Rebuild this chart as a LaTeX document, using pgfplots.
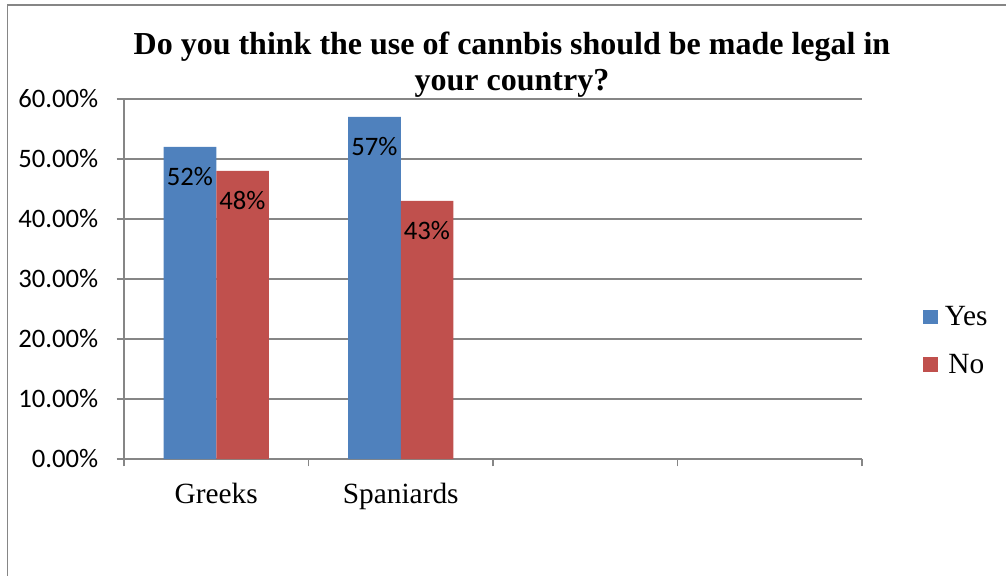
\documentclass[border=0pt]{standalone}
\usepackage{fontspec}
\setmainfont{Liberation Serif}
\newfontfamily\calibri{Carlito}
\usepackage{pgfplots}
\pgfplotsset{compat=1.18}
\definecolor{xlblue}{HTML}{4F81BD}
\definecolor{xlred}{HTML}{C0504D}
\definecolor{xlgrid}{HTML}{868686}
\begin{document}
\begin{tikzpicture}
\useasboundingbox (0,0) rectangle (754.5pt,431.25pt);
\draw[xlgrid, line width=1.4pt] (5.6pt,-5pt) -- (5.6pt,427.5pt) -- (760pt,427.5pt);
\node[font=\bfseries\fontsize{24}{24}\selectfont, anchor=base, inner sep=0pt] at (384pt,390pt) {Do you think the use of cannbis should be made legal in};
\node[font=\bfseries\fontsize{24}{24}\selectfont, anchor=base, inner sep=0pt] at (384pt,363pt) {your country?};
\begin{axis}[
  at={(93pt,87pt)}, anchor=south west,
  scale only axis, width=553.5pt, height=270pt,
  ybar, bar width=0.2846,
  xmin=-0.5, xmax=3.5, ymin=0, ymax=60,
  xtick={-0.5,0.5,1.5,2.5,3.5}, xticklabels={,,,,},
  extra x ticks={0,1}, extra x tick labels={Greeks,Spaniards},
  extra x tick style={major tick length=0pt, xticklabel style={font=\fontsize{22}{22}\selectfont, anchor=base, inner sep=0pt, yshift=-33pt}},
  ytick={0,10,...,60},
  /pgf/number format/assume math mode=true,
  yticklabel={\pgfmathprintnumber[fixed,fixed zerofill,precision=2]{\tick}\%},
  yticklabel style={font=\calibri\fontsize{20}{20}\selectfont, anchor=east, inner sep=0pt, xshift=-13.5pt},
  axis x line*=bottom, axis y line*=left,
  ymajorgrids, major grid style={xlgrid, line width=1.3pt},
  axis line style={xlgrid, line width=1.3pt},
  every tick/.style={xlgrid, line width=1.3pt},
  tick align=outside, major tick length=5.6pt,
  nodes near coords={\pgfmathprintnumber[fixed,precision=0]{\pgfplotspointmeta}\%},
  nodes near coords align=center,
  every node near coord/.append style={font=\calibri\fontsize{20}{20}\selectfont, anchor=north, inner sep=0pt, yshift=-15pt, text=black},
  legend style={draw=none, fill=none, at={(1.0827,0.432)}, anchor=north west, font=\fontsize{22}{22}\selectfont, row sep=16pt, inner sep=0pt, /tikz/every odd column/.append style={column sep=3pt}},
  legend image code/.code={\fill[#1] (0pt,-5.6pt) rectangle (11.25pt,5.6pt);},
]
\addplot[fill=xlblue, draw=none, bar shift=-0.1423] coordinates {(0,52) (1,57)};
\addlegendentry{Yes}
\addplot[fill=xlred, draw=none, bar shift=0.1423] coordinates {(0,48) (1,43)};
\addlegendentry{No}
\end{axis}
\end{tikzpicture}
\end{document}
